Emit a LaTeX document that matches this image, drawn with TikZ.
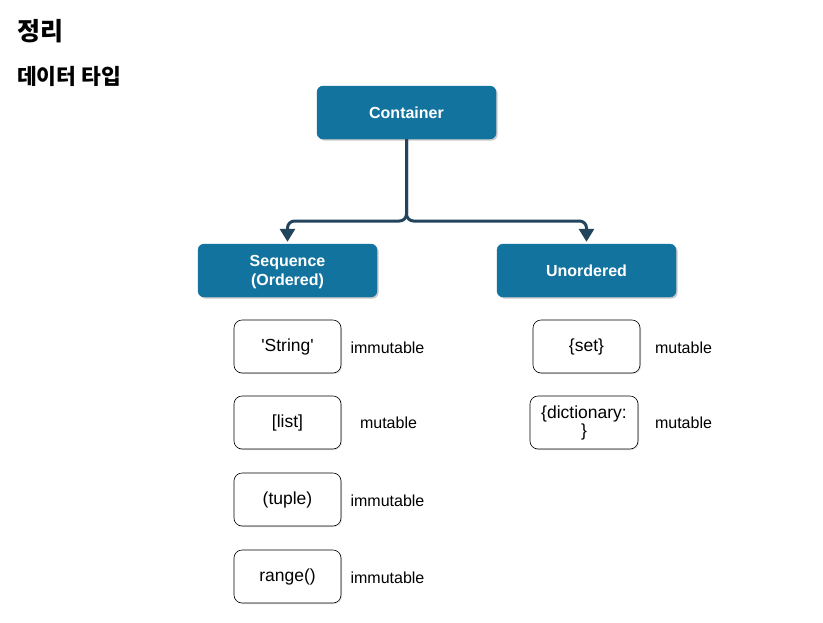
\documentclass[tikz,border=0pt]{standalone}
\usepackage{fontspec}
\setmainfont{Liberation Sans}
\newfontfamily\krfont{Noto Sans CJK KR}
\usetikzlibrary{arrows.meta,shadows}
\definecolor{boxblue}{HTML}{13739F}
\definecolor{linknavy}{HTML}{23445D}
\tikzset{
  bluebox/.style={draw=boxblue, fill=boxblue, rounded corners=6pt, text=white,
    font=\fontsize{16}{19.5}\selectfont\bfseries, align=center,
    minimum width=179pt, minimum height=53pt, inner sep=0pt,
    drop shadow={shadow xshift=1.6pt, shadow yshift=-1.6pt, opacity=0.35, fill=black!60}},
  typebox/.style={draw=black, fill=white, rounded corners=8pt, line width=0.6pt,
    font=\fontsize{17.5}{18}\selectfont, align=center,
    minimum width=107pt, minimum height=53pt, inner sep=0pt,
    drop shadow={shadow xshift=1pt, shadow yshift=-1pt, opacity=0.2, fill=black!60}},
  tag/.style={font=\fontsize{16}{18}\selectfont, inner sep=0pt},
  conn/.style={draw=linknavy, line width=3pt, rounded corners=7pt,
    -{Triangle[width=15pt,length=13pt]}, shorten >=2pt},
}
\begin{document}
\begin{tikzpicture}[x=1pt,y=-1pt]
  \useasboundingbox (0,0) rectangle (823,622);
  % headings
  \node[anchor=west, inner sep=0pt, font=\krfont\bfseries\fontsize{25}{27}\selectfont] (title) at (17,31) {정리};
  \node[anchor=west, inner sep=0pt, font=\krfont\bfseries\fontsize{21.5}{23}\selectfont] (sub) at (17,76) {데이터 타입};
  % hierarchy
  \node[bluebox] (ctr) at (406.5,112.5) {Container};
  \node[bluebox] (seq) at (287.5,270.5) {};
  \node[text=white, font=\fontsize{16}{19.5}\selectfont\bfseries, align=center] (seqtxt) at (287.5,272) {Sequence\\(Ordered)};
  \node[bluebox] (uno) at (586.5,270.5) {Unordered};
  \coordinate (bar) at (0,221);
  \draw[conn] (ctr.south) |- (seq.north |- bar) -- (seq.north);
  \draw[conn] (ctr.south) |- (uno.north |- bar) -- (uno.north);
  % sequence types
  \node[typebox] (str) at (287.5,346.5) {\textquotesingle String\textquotesingle};
  \node[typebox] (lst) at (287.5,422.5) {[list]};
  \node[typebox] (tup) at (287.5,499.5) {(tuple)};
  \node[typebox] (rng) at (287.5,576.5) {range()};
  \node[tag] (strm) at (387.5,348) {immutable};
  \node[tag] (lstm) at (388.5,423) {mutable};
  \node[tag] (tupm) at (387.5,501) {immutable};
  \node[tag] (rngm) at (387.5,578) {immutable};
  % unordered types
  \node[typebox] (set) at (586.5,346.5) {\{set\}};
  \node[typebox, minimum width=108pt] (dct) at (584,422.5) {\{dictionary:\\\}};
  \node[tag] (setm) at (683.5,348) {mutable};
  \node[tag] (dctm) at (683.5,423) {mutable};
\end{tikzpicture}
\end{document}
